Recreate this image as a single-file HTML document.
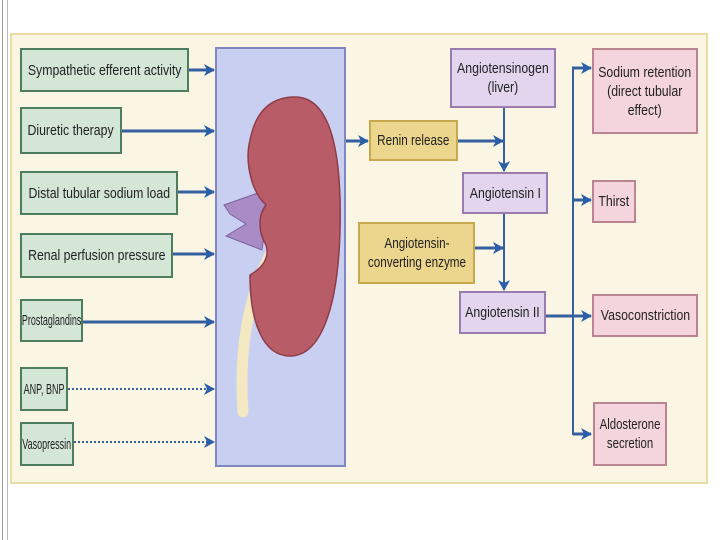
<!DOCTYPE html>
<html><head><style>
body{margin:0;width:720px;height:540px;background:#fff;position:relative;overflow:hidden;font-family:"Liberation Sans",sans-serif;}
.b{position:absolute;box-sizing:border-box;display:flex;align-items:center;justify-content:center;text-align:center;font-size:15px;line-height:19px;color:#222}
.b span{display:inline-block;white-space:nowrap;transform:scaleX(.82);}
.g{background:#d4e6d6;border:2px solid #4f7d5f}
.y{background:#ecd58c;border:2px solid #c9a94d}
.p{background:#e4d5ef;border:2px solid #9b7cb0}
.k{background:#f4d5dd;border:2px solid #bb8491}
</style></head><body>
<div style="position:absolute;left:2px;top:0;width:1px;height:540px;background:#999"></div>
<div style="position:absolute;left:7px;top:0;width:1px;height:540px;background:#bbb"></div>
<div style="position:absolute;left:10px;top:33px;width:698px;height:451px;background:#fbf6e4;border:2px solid #e9dda4;box-sizing:border-box"></div>
<div style="position:absolute;left:215px;top:47px;width:131px;height:420px;background:#c9cff0;border:2px solid #8088c4;box-sizing:border-box"></div>
<svg style="position:absolute;left:0;top:0" width="720" height="540">
<defs><marker id="a" markerWidth="11" markerHeight="12" refX="10" refY="6" orient="auto" markerUnits="userSpaceOnUse"><path d="M0,0 L11,6 L0,12 L3,6z" fill="#2a5ea8"/></marker></defs>
<path d="M270,255 C252,290 238,340 243,412" fill="none" stroke="#f2e8c2" stroke-width="11" stroke-linecap="round"/>
<path d="M224,205 L258,193 L268,205 L262,250 L226,236 L246,224 L230,214z" fill="#a98bc6" stroke="#7e60a0" stroke-width="1"/>
<path d="M295,97 C330,97 342,150 340,230 C338,310 320,356 290,356 C262,356 250,320 250,275 C262,268 270,258 266,245 C258,232 258,215 266,205 C250,190 245,160 250,140 C256,110 272,97 295,97z" fill="#b85d67" stroke="#8e3c48" stroke-width="1.5"/>
<g stroke="#35609f" stroke-width="3" fill="none">
<line x1="189" y1="70" x2="214" y2="70" marker-end="url(#a)"/>
<line x1="122" y1="131" x2="214" y2="131" marker-end="url(#a)"/>
<line x1="178" y1="192" x2="214" y2="192" marker-end="url(#a)"/>
<line x1="173" y1="254" x2="214" y2="254" marker-end="url(#a)"/>
<line x1="83" y1="322" x2="214" y2="322" marker-end="url(#a)"/>
<line x1="68" y1="389" x2="214" y2="389" stroke-dasharray="2,2" stroke-width="2" marker-end="url(#a)"/>
<line x1="74" y1="442" x2="214" y2="442" stroke-dasharray="2,2" stroke-width="2" marker-end="url(#a)"/>
<line x1="346" y1="141" x2="368" y2="141" marker-end="url(#a)"/>
<line x1="458" y1="141" x2="503" y2="141" marker-end="url(#a)"/>
<line x1="504" y1="108" x2="504" y2="171" marker-end="url(#a)" stroke-width="2"/>
<line x1="504" y1="213" x2="504" y2="290" marker-end="url(#a)" stroke-width="2"/>
<line x1="475" y1="248" x2="503" y2="248" marker-end="url(#a)"/>
<line x1="546" y1="316" x2="591" y2="316" marker-end="url(#a)"/>
<line x1="573" y1="68" x2="573" y2="435" stroke-width="2"/>
<line x1="572" y1="68" x2="591" y2="68" marker-end="url(#a)"/>
<line x1="573" y1="200" x2="591" y2="200" marker-end="url(#a)"/>
<line x1="573" y1="434" x2="591" y2="434" marker-end="url(#a)"/>
</g>
</svg>
<div class="b g" style="left:20px;top:48px;width:169px;height:44px"><span>Sympathetic efferent activity</span></div>
<div class="b g" style="left:20px;top:107px;width:102px;height:47px"><span style="transform:scaleX(.82)">Diuretic therapy</span></div>
<div class="b g" style="left:20px;top:171px;width:158px;height:44px"><span>Distal tubular sodium load</span></div>
<div class="b g" style="left:20px;top:233px;width:153px;height:45px"><span>Renal perfusion pressure</span></div>
<div class="b g" style="left:20px;top:299px;width:63px;height:43px"><span style="transform:scaleX(.6)">Prostaglandins</span></div>
<div class="b g" style="left:20px;top:367px;width:48px;height:44px"><span style="transform:scaleX(.6)">ANP, BNP</span></div>
<div class="b g" style="left:20px;top:422px;width:54px;height:44px"><span style="transform:scaleX(.6)">Vasopressin</span></div>
<div class="b y" style="left:369px;top:120px;width:89px;height:41px"><span style="transform:scaleX(.78)">Renin release</span></div>
<div class="b y" style="left:358px;top:222px;width:117px;height:62px"><span style="transform:scaleX(.78)">Angiotensin-<br>converting enzyme</span></div>
<div class="b p" style="left:450px;top:48px;width:106px;height:60px"><span>Angiotensinogen<br>(liver)</span></div>
<div class="b p" style="left:462px;top:172px;width:86px;height:42px"><span>Angiotensin I</span></div>
<div class="b p" style="left:459px;top:291px;width:87px;height:43px"><span>Angiotensin II</span></div>
<div class="b k" style="left:592px;top:48px;width:106px;height:86px"><span>Sodium retention<br>(direct tubular<br>effect)</span></div>
<div class="b k" style="left:592px;top:180px;width:44px;height:43px"><span>Thirst</span></div>
<div class="b k" style="left:592px;top:294px;width:106px;height:43px"><span>Vasoconstriction</span></div>
<div class="b k" style="left:593px;top:402px;width:74px;height:64px"><span style="transform:scaleX(.76)">Aldosterone<br>secretion</span></div>
</body></html>
